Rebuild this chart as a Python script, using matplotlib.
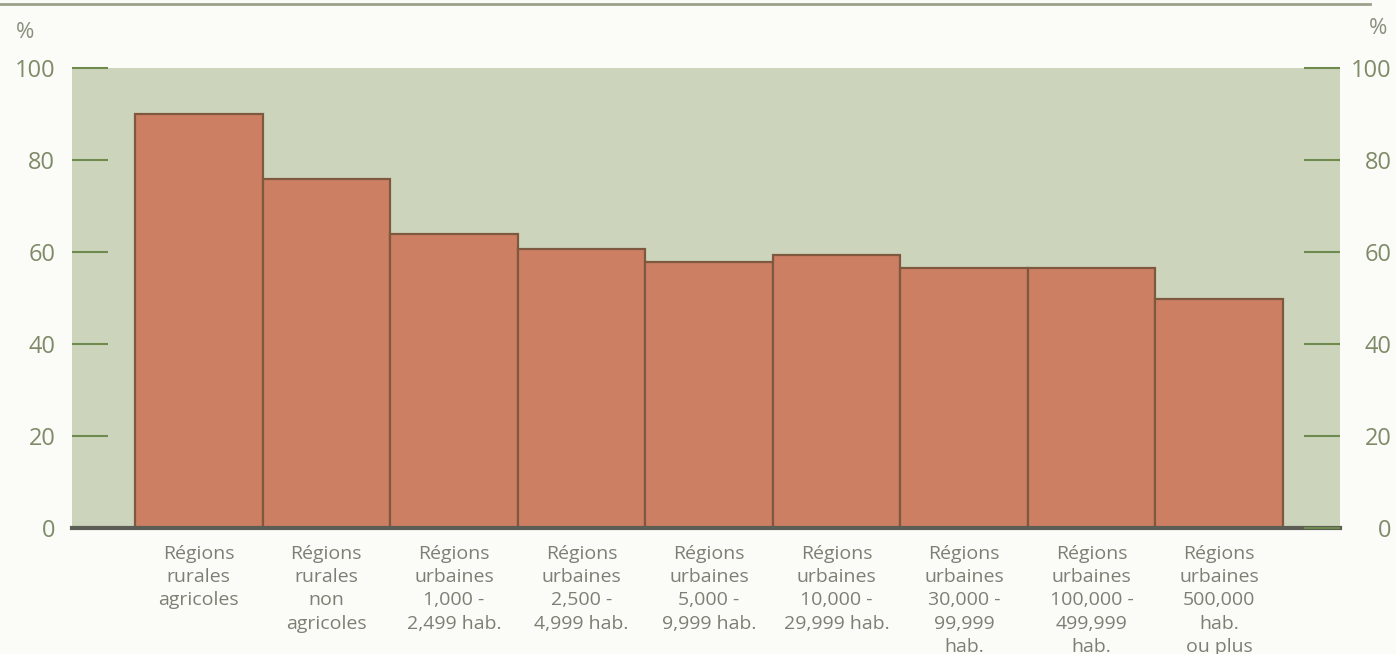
import matplotlib
matplotlib.use("Agg")
import matplotlib.pyplot as plt
from matplotlib.lines import Line2D

categories = [
    "Régions\nrurales\nagricoles",
    "Régions\nrurales\nnon\nagricoles",
    "Régions\nurbaines\n1,000 -\n2,499 hab.",
    "Régions\nurbaines\n2,500 -\n4,999 hab.",
    "Régions\nurbaines\n5,000 -\n9,999 hab.",
    "Régions\nurbaines\n10,000 -\n29,999 hab.",
    "Régions\nurbaines\n30,000 -\n99,999\nhab.",
    "Régions\nurbaines\n100,000 -\n499,999\nhab.",
    "Régions\nurbaines\n500,000\nhab.\nou plus",
]
values = [90.0, 75.9, 63.9, 60.7, 57.8, 59.3, 56.5, 56.5, 49.8]
yticks = [0, 20, 40, 60, 80, 100]

plt.rcParams['font.family'] = ['Open Sans', 'DejaVu Sans']

fig = plt.figure(figsize=(13.96, 6.54), dpi=100, facecolor='#fbfcf8')
ax = fig.add_axes([72/1396, 1-528/654, (1340-72)/1396, (528-68)/654])
ax.set_facecolor('#cdd4bc')

x = list(range(len(values)))
ax.bar(x, values, width=1.0, color='#cc7f62', edgecolor='#7f5840', linewidth=1.6, zorder=2)

ax.set_xlim(-0.994, 8.947)
ax.set_ylim(0, 100)

for s in ['top', 'right', 'left']:
    ax.spines[s].set_visible(False)
ax.spines['bottom'].set_color('#5c5e55')
ax.spines['bottom'].set_linewidth(3)
ax.spines['bottom'].set_zorder(3)

tick_col = '#6e8a4c'
label_col = '#7f8a68'

ax.set_yticks(yticks)
ax.set_yticklabels([str(v) for v in yticks])
ax.tick_params(axis='y', direction='in', length=26, width=1.5, color=tick_col,
               labelsize=17, labelcolor=label_col, pad=12)

ax.set_xticks(x)
ax.set_xticklabels(categories, fontsize=14, color='#7d7f74', linespacing=1.38)
ax.tick_params(axis='x', length=0, pad=12)

ax2 = ax.twinx()
ax2.set_ylim(0, 100)
for s in ['top', 'right', 'left', 'bottom']:
    ax2.spines[s].set_visible(False)
ax2.set_yticks(yticks)
ax2.set_yticklabels([str(v) for v in yticks])
ax2.tick_params(axis='y', direction='in', length=26, width=1.5, color=tick_col,
                labelsize=17, labelcolor=label_col, pad=37)
for lab in ax2.get_yticklabels():
    lab.set_ha('right')

fig.text(25/1396, 1-32/654, '%', fontsize=16, color='#8a8f7c', ha='center', va='center')
fig.text(1378/1396, 1-28/654, '%', fontsize=16, color='#8a8f7c', ha='center', va='center')

fig.add_artist(Line2D([0, 1370/1396], [1-4/654, 1-4/654], color='#9aa08a', linewidth=2))

fig.savefig('out.png', dpi=100, facecolor=fig.get_facecolor())
